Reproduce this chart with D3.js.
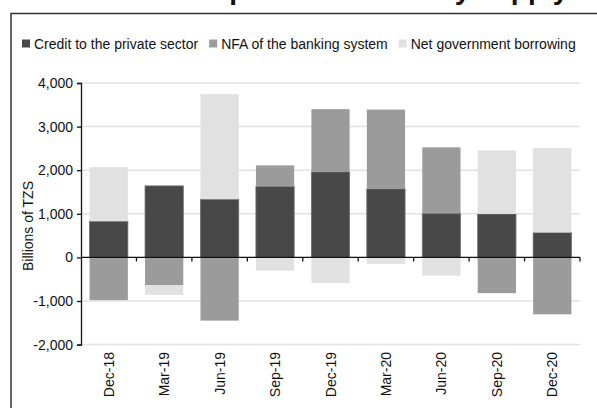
<!DOCTYPE html>
<html>
<head>
<meta charset="utf-8">
<script src="https://cdn.jsdelivr.net/npm/d3@7"></script>
<style>
  html, body { margin: 0; padding: 0; background: #fff; }
  svg { display: block; font-family: "Liberation Sans", Arial, sans-serif; }
</style>
</head>
<body>
<svg id="chart" width="597" height="408"></svg>
<script>
// Quarterly contributions to money supply growth (billions of TZS)
const categories = ["Dec-18", "Mar-19", "Jun-19", "Sep-19", "Dec-19", "Mar-20", "Jun-20", "Sep-20", "Dec-20"];
const seriesNames = ["Credit to the private sector", "NFA of the banking system", "Net government borrowing"];
const creditPrivate = [830, 1640, 1335, 1630, 1960, 1570, 1010, 995, 570];
const nfaBanking = [-980, -640, -1450, 480, 1440, 1820, 1515, -820, -1305];
const netGovBorrowing = [1240, -220, 2410, -305, -590, -150, -420, 1460, 1935];
const yTicks = [-2000, -1000, 0, 1000, 2000, 3000, 4000];
const colors = ["#484848", "#9b9b9b", "#e1e1e1"];

const rows = categories.map((c, i) => ({
  cat: c,
  [seriesNames[0]]: creditPrivate[i],
  [seriesNames[1]]: nfaBanking[i],
  [seriesNames[2]]: netGovBorrowing[i]
}));

const svg = d3.select("#chart");
const plot = { left: 81, right: 580, top: 83, bottom: 344.6 };
const FS = 14;

// Title (runs above the frame's top edge)
svg.append("text")
  .attr("x", 167).attr("y", -1)
  .attr("font-size", 28).attr("font-weight", "bold")
  .attr("fill", "#111")
  .text("Components of money supply");

// Outer frame
svg.append("rect")
  .attr("x", 11).attr("y", 13.5)
  .attr("width", 620).attr("height", 420)
  .attr("fill", "none").attr("stroke", "#333").attr("stroke-width", 1.5);

const x = d3.scaleBand().domain(categories).range([plot.left, plot.right]).paddingInner(0.31).paddingOuter(0.155);
const y = d3.scaleLinear().domain([-2000, 4000]).range([plot.bottom, plot.top]);

// Gridlines
svg.append("g").selectAll("line").data(yTicks.filter(t => t !== 0)).join("line")
  .attr("x1", plot.left).attr("x2", plot.right)
  .attr("y1", d => y(d)).attr("y2", d => y(d))
  .attr("stroke", "#e2e2e2").attr("stroke-width", 1.5);

// Stacked bars, positives upward and negatives downward
const stack = d3.stack().keys(seriesNames).offset(d3.stackOffsetDiverging);
const layers = stack(rows);
svg.append("g").selectAll("g").data(layers).join("g")
  .attr("fill", (d, i) => colors[i])
  .attr("stroke", (d, i) => i === 0 ? "#6e6e6e" : "none")
  .attr("stroke-width", 0.8)
  .selectAll("rect").data(d => d).join("rect")
  .attr("x", d => x(d.data.cat))
  .attr("width", x.bandwidth())
  .attr("y", d => y(Math.max(d[0], d[1])))
  .attr("height", d => Math.abs(y(d[0]) - y(d[1])));

// Y axis, plain hyphen for negatives
const fmt = d3.format(",");
const yAxis = d3.axisLeft(y).tickValues(yTicks).tickSize(4).tickPadding(4)
  .tickFormat(d => fmt(d).replace("\u2212", "-"));
const gy = svg.append("g").attr("transform", `translate(${plot.left},0)`).call(yAxis);
gy.select(".domain").attr("stroke", "#111").attr("stroke-width", 1.3);
gy.selectAll(".tick line").attr("stroke", "#111").attr("stroke-width", 1.3);
gy.selectAll(".tick text").attr("font-size", FS).attr("fill", "#111")
  .attr("font-family", "'Liberation Sans', Arial, sans-serif");

// Zero line with category separators
const z = y(0);
svg.append("line").attr("x1", plot.left).attr("x2", plot.right)
  .attr("y1", z).attr("y2", z).attr("stroke", "#111").attr("stroke-width", 1.3);
const bounds = d3.range(1, categories.length + 1).map(i => plot.left + (plot.right - plot.left) * i / categories.length);
svg.append("g").selectAll("line").data(bounds).join("line")
  .attr("x1", d => d).attr("x2", d => d)
  .attr("y1", z).attr("y2", z + 4)
  .attr("stroke", "#111").attr("stroke-width", 1.3);

// Category labels, rotated
svg.append("g").selectAll("text").data(categories).join("text")
  .attr("transform", d => `translate(${x(d) + x.bandwidth() / 2 + 5},352) rotate(-90)`)
  .attr("text-anchor", "end")
  .attr("font-size", FS).attr("fill", "#111")
  .text(d => d);

// Y axis title
svg.append("text")
  .attr("transform", "translate(33,226) rotate(-90)")
  .attr("text-anchor", "middle")
  .attr("font-size", FS).attr("fill", "#111")
  .text("Billions of TZS");

// Legend
const legend = svg.append("g").attr("transform", "translate(22,44)");
let lx = 0;
seriesNames.forEach((name, i) => {
  const g = legend.append("g").attr("transform", `translate(${lx},0)`);
  g.append("rect").attr("x", 0).attr("y", -4.5).attr("width", 8).attr("height", 8).attr("fill", colors[i]);
  const t = g.append("text").attr("x", 12).attr("y", 5)
    .attr("font-size", FS).attr("fill", "#111").text(name);
  lx += 12 + t.node().getComputedTextLength() + 11;
});
</script>
</body>
</html>
